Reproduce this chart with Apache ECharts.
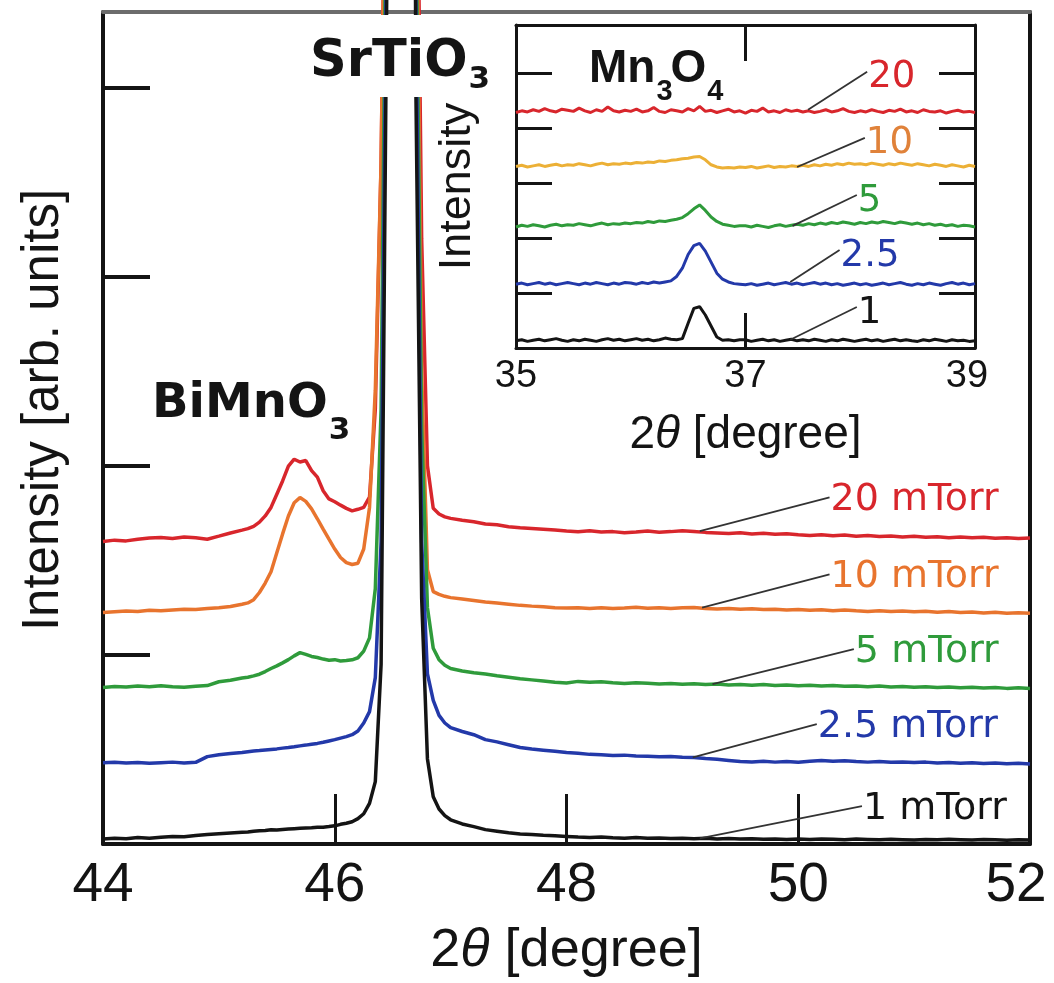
<!DOCTYPE html>
<html>
<head>
<meta charset="utf-8">
<title>XRD 2θ scans of BiMnO3 films</title>
<script src="https://cdn.jsdelivr.net/npm/echarts@6/dist/echarts.min.js"></script>
<style>
  html, body { margin: 0; padding: 0; background: #fff; }
  #chart { width: 1054px; height: 983px; }
</style>
</head>
<body>
<div id="chart"></div>
<script>
// ---- wide scan: 2θ sampling (degrees) ----
const THETA_MAIN = [
  44.0, 44.1, 44.2, 44.3, 44.4, 44.5, 44.6, 44.7, 44.8, 44.9, 45.0, 45.1, 45.2,
  45.25, 45.3, 45.35, 45.4, 45.45, 45.5, 45.55, 45.6, 45.65, 45.7, 45.75, 45.8, 45.85, 45.9, 45.95, 46.0, 46.05, 46.1, 46.15, 46.2,
  46.25, 46.3, 46.35, 46.4, 46.45, 46.5, 46.55, 46.6, 46.65, 46.7, 46.75, 46.8, 46.85, 46.9, 46.95,
  47.0, 47.1, 47.2, 47.3, 47.4, 47.5, 47.6, 47.7, 47.8, 47.9,
  48.0, 48.1, 48.2, 48.3, 48.4, 48.5, 48.6, 48.7, 48.8, 48.9,
  49.0, 49.1, 49.2, 49.3, 49.4, 49.5, 49.6, 49.7, 49.8, 49.9,
  50.0, 50.1, 50.2, 50.3, 50.4, 50.5, 50.6, 50.7, 50.8, 50.9,
  51.0, 51.1, 51.2, 51.3, 51.4, 51.5, 51.6, 51.7, 51.8, 51.9,
  52.0
];

// offset intensities (arb. units), one array per growth pressure
const MAIN_20 = [
  1.600, 1.607, 1.603, 1.612, 1.618, 1.621, 1.616, 1.624, 1.619, 1.612, 1.628, 1.645, 1.660,
  1.668, 1.680, 1.702, 1.735, 1.780, 1.850, 1.920, 1.998, 2.035, 2.020, 2.028, 1.975, 1.940, 1.868, 1.825, 1.810, 1.792, 1.775, 1.762, 1.770,
  1.780, 1.835, 2.30, 3.6, 6.0, 12, 18, 18, 12, 6.0, 3.2, 2.00, 1.775, 1.745, 1.730,
  1.722, 1.712, 1.704, 1.692, 1.688, 1.678, 1.672, 1.668, 1.664, 1.660,
  1.655, 1.651, 1.656, 1.650, 1.652, 1.646, 1.650, 1.655, 1.649, 1.652,
  1.657, 1.653, 1.648, 1.645, 1.642, 1.646, 1.640, 1.643, 1.638, 1.641,
  1.636, 1.632, 1.635, 1.630, 1.634, 1.628, 1.631, 1.626, 1.629, 1.624,
  1.627, 1.622, 1.625, 1.620, 1.623, 1.619, 1.622, 1.617, 1.620, 1.616,
  1.618
];
const MAIN_10 = [
  1.224, 1.228, 1.232, 1.229, 1.236, 1.233, 1.238, 1.242, 1.240, 1.245, 1.250, 1.256, 1.268,
  1.275, 1.292, 1.330, 1.380, 1.440, 1.540, 1.640, 1.735, 1.805, 1.832, 1.812, 1.772, 1.720, 1.665, 1.612, 1.560, 1.515, 1.488, 1.478, 1.485,
  1.560, 1.780, 2.40, 3.6, 6.0, 12, 18, 18, 12, 5.5, 2.5, 1.45, 1.335, 1.320, 1.310,
  1.303, 1.296, 1.288, 1.280, 1.274, 1.268, 1.262, 1.258, 1.255, 1.250,
  1.248, 1.250, 1.246, 1.249, 1.245, 1.248, 1.252, 1.247, 1.250, 1.246,
  1.249, 1.251, 1.246, 1.243, 1.246, 1.241, 1.244, 1.240, 1.242, 1.238,
  1.240, 1.236, 1.239, 1.234, 1.237, 1.233, 1.230, 1.234, 1.229, 1.232,
  1.228, 1.231, 1.226, 1.229, 1.224, 1.227, 1.222, 1.225, 1.220, 1.223,
  1.220
];
const MAIN_5 = [
  0.828, 0.833, 0.830, 0.836, 0.832, 0.837, 0.831, 0.829, 0.834, 0.838, 0.858, 0.866, 0.878,
  0.882, 0.889, 0.898, 0.912, 0.928, 0.942, 0.958, 0.975, 0.995, 1.012, 1.003, 0.992, 0.986, 0.978, 0.972, 0.975, 0.968, 0.970, 0.974, 0.985,
  1.020, 1.090, 1.35, 2.3, 5.5, 12, 18, 18, 12, 5.0, 2.2, 1.25, 1.035, 0.975, 0.945,
  0.928, 0.915, 0.906, 0.899, 0.890, 0.882, 0.874, 0.868, 0.862, 0.856,
  0.852, 0.860, 0.855, 0.858, 0.853, 0.849, 0.853, 0.850, 0.846, 0.849,
  0.845, 0.848, 0.843, 0.846, 0.841, 0.844, 0.840, 0.843, 0.838, 0.841,
  0.837, 0.840, 0.835, 0.838, 0.834, 0.836, 0.832, 0.835, 0.830, 0.833,
  0.829, 0.832, 0.828, 0.830, 0.826, 0.829, 0.825, 0.828, 0.823, 0.826,
  0.822
];
const MAIN_2_5 = [
  0.430, 0.432, 0.428, 0.431, 0.427, 0.430, 0.433, 0.429, 0.432, 0.462, 0.472, 0.478, 0.484,
  0.488, 0.492, 0.494, 0.497, 0.500, 0.503, 0.507, 0.510, 0.514, 0.519, 0.523, 0.528, 0.532, 0.538, 0.545, 0.552, 0.560, 0.568, 0.578, 0.598,
  0.640, 0.700, 0.88, 1.6, 5.0, 12, 18, 18, 12, 4.5, 1.6, 0.90, 0.76, 0.680, 0.640,
  0.615, 0.595, 0.578, 0.552, 0.540, 0.525, 0.510, 0.502, 0.496, 0.490,
  0.484, 0.480, 0.474, 0.472, 0.468, 0.470, 0.466, 0.464, 0.461, 0.463,
  0.459, 0.457, 0.452, 0.448, 0.442, 0.436, 0.434, 0.437, 0.433, 0.436,
  0.432, 0.437, 0.441, 0.438, 0.440, 0.436, 0.433, 0.436, 0.432, 0.434,
  0.431, 0.433, 0.429, 0.431, 0.427, 0.430, 0.426, 0.428, 0.424, 0.427,
  0.423
];
const MAIN_1 = [
  0.026, 0.030, 0.028, 0.034, 0.031, 0.036, 0.040, 0.038, 0.045, 0.050, 0.054, 0.058, 0.062,
  0.064, 0.068, 0.070, 0.072, 0.075, 0.074, 0.077, 0.079, 0.081, 0.083, 0.085, 0.086, 0.088, 0.089, 0.092, 0.096, 0.104, 0.110, 0.118, 0.134,
  0.160, 0.215, 0.33, 0.95, 4.6, 12, 18, 18, 12, 4.0, 1.3, 0.45, 0.25, 0.185, 0.150,
  0.128, 0.106, 0.092, 0.076, 0.068, 0.060, 0.053, 0.050, 0.046, 0.043,
  0.040, 0.037, 0.035, 0.037, 0.033, 0.031, 0.034, 0.030, 0.032, 0.029,
  0.031, 0.028, 0.030, 0.027, 0.029, 0.026, 0.028, 0.025, 0.027, 0.024,
  0.026, 0.024, 0.027, 0.025, 0.023, 0.026, 0.024, 0.022, 0.025, 0.023,
  0.021, 0.024, 0.022, 0.025, 0.023, 0.021, 0.024, 0.022, 0.020, 0.023,
  0.021
];

// ---- inset: Mn3O4 region ----
const THETA_INSET = [
  35.00, 35.05, 35.10, 35.15, 35.20, 35.25, 35.30, 35.35, 35.40, 35.45,
  35.50, 35.55, 35.60, 35.65, 35.70, 35.75, 35.80, 35.85, 35.90, 35.95,
  36.00, 36.05, 36.10, 36.15, 36.20, 36.25, 36.30, 36.35, 36.40, 36.45,
  36.50, 36.55, 36.60, 36.65, 36.70, 36.75, 36.80, 36.85, 36.90, 36.95,
  37.00, 37.05, 37.10, 37.15, 37.20, 37.25, 37.30, 37.35, 37.40, 37.45,
  37.50, 37.55, 37.60, 37.65, 37.70, 37.75, 37.80, 37.85, 37.90, 37.95,
  38.00, 38.05, 38.10, 38.15, 38.20, 38.25, 38.30, 38.35, 38.40, 38.45,
  38.50, 38.55, 38.60, 38.65, 38.70, 38.75, 38.80, 38.85, 38.90, 38.95,
  39.00
];
const INSET_20 = [
  4.28, 4.31, 4.29, 4.33, 4.30, 4.35, 4.31, 4.29, 4.34, 4.32,
  4.30, 4.36, 4.31, 4.28, 4.33, 4.30, 4.38, 4.31, 4.29, 4.32,
  4.30, 4.34, 4.29, 4.31, 4.37, 4.30, 4.28, 4.33, 4.31, 4.29,
  4.35, 4.31, 4.39, 4.30, 4.32, 4.28, 4.31, 4.34, 4.29, 4.31,
  4.27, 4.32, 4.30, 4.36, 4.29, 4.31, 4.28, 4.33, 4.30, 4.32,
  4.29, 4.31, 4.28, 4.30, 4.33, 4.29, 4.31, 4.35, 4.30, 4.28,
  4.31, 4.29, 4.33, 4.30, 4.28, 4.32, 4.30, 4.34, 4.29, 4.31,
  4.28, 4.33, 4.30, 4.29, 4.31, 4.27, 4.30, 4.32, 4.29, 4.30,
  4.28
];
const INSET_10 = [
  3.30, 3.32, 3.29, 3.31, 3.33, 3.30, 3.32, 3.34, 3.31, 3.33,
  3.32, 3.35, 3.33, 3.31, 3.34, 3.36, 3.33, 3.35, 3.34, 3.36,
  3.35, 3.37, 3.36, 3.38, 3.37, 3.40, 3.39, 3.41, 3.42, 3.44,
  3.45, 3.47, 3.48, 3.42, 3.33, 3.29, 3.27, 3.28, 3.27, 3.29,
  3.28, 3.30, 3.27, 3.29, 3.31, 3.28, 3.30, 3.29, 3.31, 3.30,
  3.32, 3.30, 3.33, 3.31, 3.34, 3.32, 3.35, 3.33, 3.36, 3.34,
  3.35, 3.33, 3.36, 3.34, 3.32, 3.35, 3.33, 3.36, 3.34, 3.32,
  3.35, 3.33, 3.31, 3.34, 3.32, 3.30, 3.33, 3.31, 3.29, 3.32,
  3.30
];
const INSET_5 = [
  2.20, 2.23, 2.21, 2.24, 2.22, 2.20, 2.23, 2.25, 2.22, 2.24,
  2.23, 2.26, 2.24, 2.22, 2.25, 2.27, 2.24, 2.26, 2.25, 2.27,
  2.26, 2.28, 2.27, 2.30, 2.28, 2.31, 2.30, 2.32, 2.34, 2.37,
  2.44, 2.53, 2.60, 2.50, 2.38, 2.30, 2.25, 2.23, 2.21, 2.22,
  2.22, 2.20, 2.23, 2.21, 2.19, 2.22, 2.24, 2.21, 2.23, 2.25,
  2.23, 2.26, 2.24, 2.27, 2.25, 2.28, 2.26, 2.29, 2.27, 2.25,
  2.28, 2.26, 2.29, 2.27, 2.30, 2.28, 2.26, 2.29, 2.27, 2.25,
  2.27, 2.24, 2.26, 2.23, 2.25, 2.22, 2.24, 2.21, 2.23, 2.22,
  2.20
];
const INSET_2_5 = [
  1.16, 1.18, 1.15, 1.17, 1.19, 1.16, 1.18, 1.15, 1.17, 1.19,
  1.17, 1.15, 1.18, 1.16, 1.19, 1.17, 1.15, 1.18, 1.16, 1.19,
  1.18, 1.16, 1.19, 1.17, 1.20, 1.18, 1.20, 1.22, 1.30, 1.45,
  1.70, 1.86, 1.90, 1.76, 1.56, 1.36, 1.25, 1.20, 1.17, 1.16,
  1.15, 1.17, 1.14, 1.16, 1.18, 1.15, 1.17, 1.19, 1.16, 1.18,
  1.15, 1.17, 1.19, 1.16, 1.18, 1.15, 1.17, 1.14, 1.16, 1.18,
  1.15, 1.17, 1.14, 1.16, 1.18, 1.15, 1.17, 1.19, 1.16, 1.14,
  1.17, 1.15, 1.18, 1.16, 1.14, 1.17, 1.19, 1.16, 1.18, 1.15,
  1.17
];
const INSET_1 = [
  0.13, 0.15, 0.12, 0.14, 0.16, 0.13, 0.15, 0.17, 0.14, 0.12,
  0.15, 0.13, 0.16, 0.14, 0.12, 0.15, 0.17, 0.14, 0.16, 0.13,
  0.15, 0.17, 0.14, 0.16, 0.13, 0.15, 0.18, 0.16, 0.15, 0.17,
  0.45, 0.72, 0.75, 0.60, 0.40, 0.20, 0.14, 0.15, 0.13, 0.15,
  0.15, 0.12, 0.14, 0.16, 0.13, 0.15, 0.12, 0.14, 0.16, 0.13,
  0.15, 0.13, 0.16, 0.14, 0.12, 0.15, 0.13, 0.16, 0.14, 0.12,
  0.14, 0.16, 0.13, 0.15, 0.12, 0.14, 0.16, 0.13, 0.15, 0.13,
  0.12, 0.15, 0.13, 0.16, 0.14, 0.12, 0.15, 0.13, 0.14, 0.12,
  0.13
];

// tick positions
const MAIN_X_TICKS = [46, 48, 50];
const MAIN_Y_TICKS = [1, 2, 3, 4];
const INSET_X_TICKS = [37];
const INSET_Y_TICKS = [1, 2, 3, 4, 5];

// pressure labels
const MAIN_LABELS = ['20 mTorr', '10 mTorr', '5 mTorr', '2.5 mTorr', '1 mTorr'];
const INSET_LABELS = ['20', '10', '5', '2.5', '1'];

// colours
const RED = '#d8262c', ORANGE = '#e8742e', GOLD = '#ecb036', GREEN = '#2f9b3b', BLUE = '#2339a9', BLACK = '#141414';
const SANS = '"Liberation Sans", Arial, sans-serif';
const DEJAVU = '"DejaVu Sans", sans-serif';

const pairs = (xs, ys) => xs.map((x, i) => [x, ys[i]]);

function lineSeries(name, xs, ys, color, width, inset) {
  return {
    name, type: 'line',
    xAxisIndex: inset ? 2 : 0, yAxisIndex: inset ? 2 : 0,
    data: pairs(xs, ys),
    symbol: 'none', showSymbol: false,
    clip: inset,
    lineStyle: { color, width },
    emphasis: { disabled: true },
    z: 3
  };
}

const frame = (color, w) => ({ show: true, onZero: false, lineStyle: { color, width: w } });

const option = {
  animation: false,
  backgroundColor: '#fff',
  grid: [
    { left: 103, right: 24, top: 12, bottom: 138 },
    { left: 516, right: 79, top: 25, bottom: 635 }
  ],
  xAxis: [
    { // main bottom
      gridIndex: 0, type: 'value', min: 44, max: 52, interval: 2, position: 'bottom',
      axisLine: frame(BLACK, 4),
      axisTick: { show: true, inside: true, length: 50, customValues: MAIN_X_TICKS, lineStyle: { color: BLACK, width: 3 } },
      axisLabel: {
        show: true, margin: 14, showMinLabel: true, showMaxLabel: true,
        formatter: v => (v === 52 ? '{r|' + v + '}' : '{n|' + v + '}'),
        rich: {
          n: { fontFamily: SANS, fontSize: 55, color: BLACK },
          r: { fontFamily: SANS, fontSize: 55, color: BLACK, padding: [0, 28, 0, 0] }
        }
      },
      splitLine: { show: false },
      name: '{a|2}{b|θ}{a| [degree]}', nameLocation: 'middle', nameGap: 80,
      nameTextStyle: {
        rich: {
          a: { fontFamily: SANS, fontSize: 54, color: BLACK },
          b: { fontFamily: SANS, fontSize: 54, color: BLACK, fontStyle: 'italic' }
        }
      }
    },
    { // main top frame
      gridIndex: 0, type: 'value', min: 44, max: 52, position: 'top',
      axisLine: frame('#6c6c6c', 4), axisTick: { show: false }, axisLabel: { show: false }, splitLine: { show: false }
    },
    { // inset bottom
      gridIndex: 1, type: 'value', min: 35, max: 39, interval: 2, position: 'bottom',
      axisLine: frame(BLACK, 3),
      axisTick: { show: true, inside: true, length: 35, customValues: INSET_X_TICKS, lineStyle: { color: BLACK, width: 3 } },
      axisLabel: {
        show: true, margin: 10, showMinLabel: true, showMaxLabel: true,
        formatter: v => (v === 39 ? '{r|' + v + '}' : '{n|' + v + '}'),
        rich: {
          n: { fontFamily: SANS, fontSize: 38, color: BLACK },
          r: { fontFamily: SANS, fontSize: 38, color: BLACK, padding: [0, 16, 0, 0] }
        }
      },
      splitLine: { show: false },
      name: '{a|2}{b|θ}{a| [degree]}', nameLocation: 'middle', nameGap: 64,
      nameTextStyle: {
        rich: {
          a: { fontFamily: SANS, fontSize: 46, color: BLACK },
          b: { fontFamily: SANS, fontSize: 46, color: BLACK, fontStyle: 'italic' }
        }
      }
    },
    { // inset top
      gridIndex: 1, type: 'value', min: 35, max: 39, position: 'top',
      axisLine: frame(BLACK, 3),
      axisTick: { show: true, inside: true, length: 36, customValues: INSET_X_TICKS, lineStyle: { color: BLACK, width: 3 } },
      axisLabel: { show: false }, splitLine: { show: false }
    }
  ],
  yAxis: [
    { // main left
      gridIndex: 0, type: 'value', min: 0, max: 4.4, interval: 1, position: 'left',
      axisLine: frame(BLACK, 4),
      axisTick: { show: true, inside: true, length: 47, customValues: MAIN_Y_TICKS, lineStyle: { color: BLACK, width: 4 } },
      axisLabel: { show: false }, splitLine: { show: false },
      name: 'Intensity [arb. units]', nameLocation: 'middle', nameGap: 34,
      nameTextStyle: { fontFamily: SANS, fontSize: 51, color: BLACK, padding: [0, 0, 0, 36] }
    },
    { // main right frame
      gridIndex: 0, type: 'value', min: 0, max: 4.4, position: 'right',
      axisLine: frame(BLACK, 4), axisTick: { show: false }, axisLabel: { show: false }, splitLine: { show: false }
    },
    { // inset left
      gridIndex: 1, type: 'value', min: 0, max: 5.87, interval: 1, position: 'left',
      axisLine: frame(BLACK, 3),
      axisTick: { show: true, inside: true, length: 36, customValues: INSET_Y_TICKS, lineStyle: { color: BLACK, width: 3 } },
      axisLabel: { show: false }, splitLine: { show: false },
      name: 'Intensity', nameLocation: 'middle', nameGap: 36,
      nameTextStyle: { fontFamily: SANS, fontSize: 45, color: BLACK }
    },
    { // inset right
      gridIndex: 1, type: 'value', min: 0, max: 5.87, position: 'right',
      axisLine: frame(BLACK, 3),
      axisTick: { show: true, inside: true, length: 36, customValues: INSET_Y_TICKS, lineStyle: { color: BLACK, width: 3 } },
      axisLabel: { show: false }, splitLine: { show: false }
    }
  ],
  series: [
    lineSeries('20 mTorr', THETA_MAIN, MAIN_20, RED, 3.5, false),
    lineSeries('10 mTorr', THETA_MAIN, MAIN_10, ORANGE, 3.5, false),
    lineSeries('5 mTorr', THETA_MAIN, MAIN_5, GREEN, 3.5, false),
    lineSeries('2.5 mTorr', THETA_MAIN, MAIN_2_5, BLUE, 3.5, false),
    lineSeries('1 mTorr', THETA_MAIN, MAIN_1, BLACK, 3.5, false),
    lineSeries('20 (inset)', THETA_INSET, INSET_20, RED, 3, true),
    lineSeries('10 (inset)', THETA_INSET, INSET_10, GOLD, 3, true),
    lineSeries('5 (inset)', THETA_INSET, INSET_5, GREEN, 3, true),
    lineSeries('2.5 (inset)', THETA_INSET, INSET_2_5, BLUE, 3, true),
    lineSeries('1 (inset)', THETA_INSET, INSET_1, BLACK, 3, true)
  ]
};

const chart = echarts.init(document.getElementById('chart'), null, { renderer: 'canvas' });
chart.setOption(option);

// annotation anchors in data coordinates: label start and the curve point the leader reaches
const MAIN_NOTES = [
  { color: RED, from: [50.27, 1.833], to: [49.15, 1.655] },
  { color: ORANGE, from: [50.27, 1.426], to: [49.17, 1.25] },
  { color: GREEN, from: [50.48, 1.03], to: [49.26, 0.845] },
  { color: BLUE, from: [50.16, 0.634], to: [49.09, 0.458] },
  { color: BLACK, from: [50.55, 0.20], to: [49.15, 0.03] }
];
const INSET_NOTES = [
  { color: RED, from: [38.06, 5.02], to: [37.545, 4.33] },
  { color: '#e0823a', from: [38.04, 3.82], to: [37.45, 3.29] },
  { color: GREEN, from: [37.97, 2.78], to: [37.41, 2.22] },
  { color: BLUE, from: [37.82, 1.78], to: [37.39, 1.20] },
  { color: BLACK, from: [37.97, 0.745], to: [37.39, 0.15] }
];

const toMain = p => chart.convertToPixel({ xAxisIndex: 0, yAxisIndex: 0 }, p);
const toInset = p => chart.convertToPixel({ xAxisIndex: 2, yAxisIndex: 2 }, p);

// width of a run of text in a given font, used to butt subscripts against their formula
const measureCtx = document.createElement('canvas').getContext('2d');
function textWidth(text, font) {
  measureCtx.font = font;
  return measureCtx.measureText(text).width;
}

function txt(x, y, text, font, fill, align) {
  return {
    type: 'text', x, y, z: 120,
    style: { text, font, fill, align: align || 'left', verticalAlign: 'middle', textAlign: align || 'left', textVerticalAlign: 'middle' }
  };
}
function leader(a, b, color) {
  return {
    type: 'line', z: 110,
    shape: { x1: a[0], y1: a[1], x2: b[0], y2: b[1] },
    style: { stroke: color, lineWidth: 1.8 }
  };
}

// chemical formula: alternating base runs and subscripts, laid out left to right
function formula(x, y, parts, bigFont, smallFont, subDrop, subGap) {
  const out = [];
  let cx = x;
  parts.forEach((p, i) => {
    const isSub = i % 2 === 1;
    const font = isSub ? smallFont : bigFont;
    out.push(txt(cx, isSub ? y + subDrop : y, p, font, BLACK));
    cx += textWidth(p, font) + (isSub ? subGap : 1);
  });
  return out;
}

const graphics = [];
// white patch behind the substrate label, covering the peak flanks
graphics.push({ type: 'rect', z: 100, shape: { x: 340, y: 15, width: 120, height: 82 }, style: { fill: '#fff' } });

// compound labels with subscripts
graphics.push(...formula(310, 63, ['SrTiO', '3'], 'bold 51px ' + DEJAVU, 'bold 31px ' + DEJAVU, 17, 0));
graphics.push(...formula(152, 405, ['BiMnO', '3'], 'bold 48px ' + DEJAVU, 'bold 31px ' + DEJAVU, 26, 0));
graphics.push(...formula(589, 69, ['Mn', '3', 'O', '4'], 'bold 46px ' + SANS, 'bold 29px ' + SANS, 23, -2));

MAIN_NOTES.forEach((n, i) => {
  const a = toMain(n.from), b = toMain(n.to);
  graphics.push(leader(a, b, '#333'));
  graphics.push(txt(a[0] + 1, a[1] + 3, MAIN_LABELS[i], '38px ' + DEJAVU, n.color));
});
INSET_NOTES.forEach((n, i) => {
  const a = toInset(n.from), b = toInset(n.to);
  graphics.push(leader(a, b, '#333'));
  graphics.push(txt(a[0] + 1, a[1] + 6, INSET_LABELS[i], '37px ' + DEJAVU, n.color));
});

chart.setOption({ graphic: { elements: graphics } });
</script>
</body>
</html>
